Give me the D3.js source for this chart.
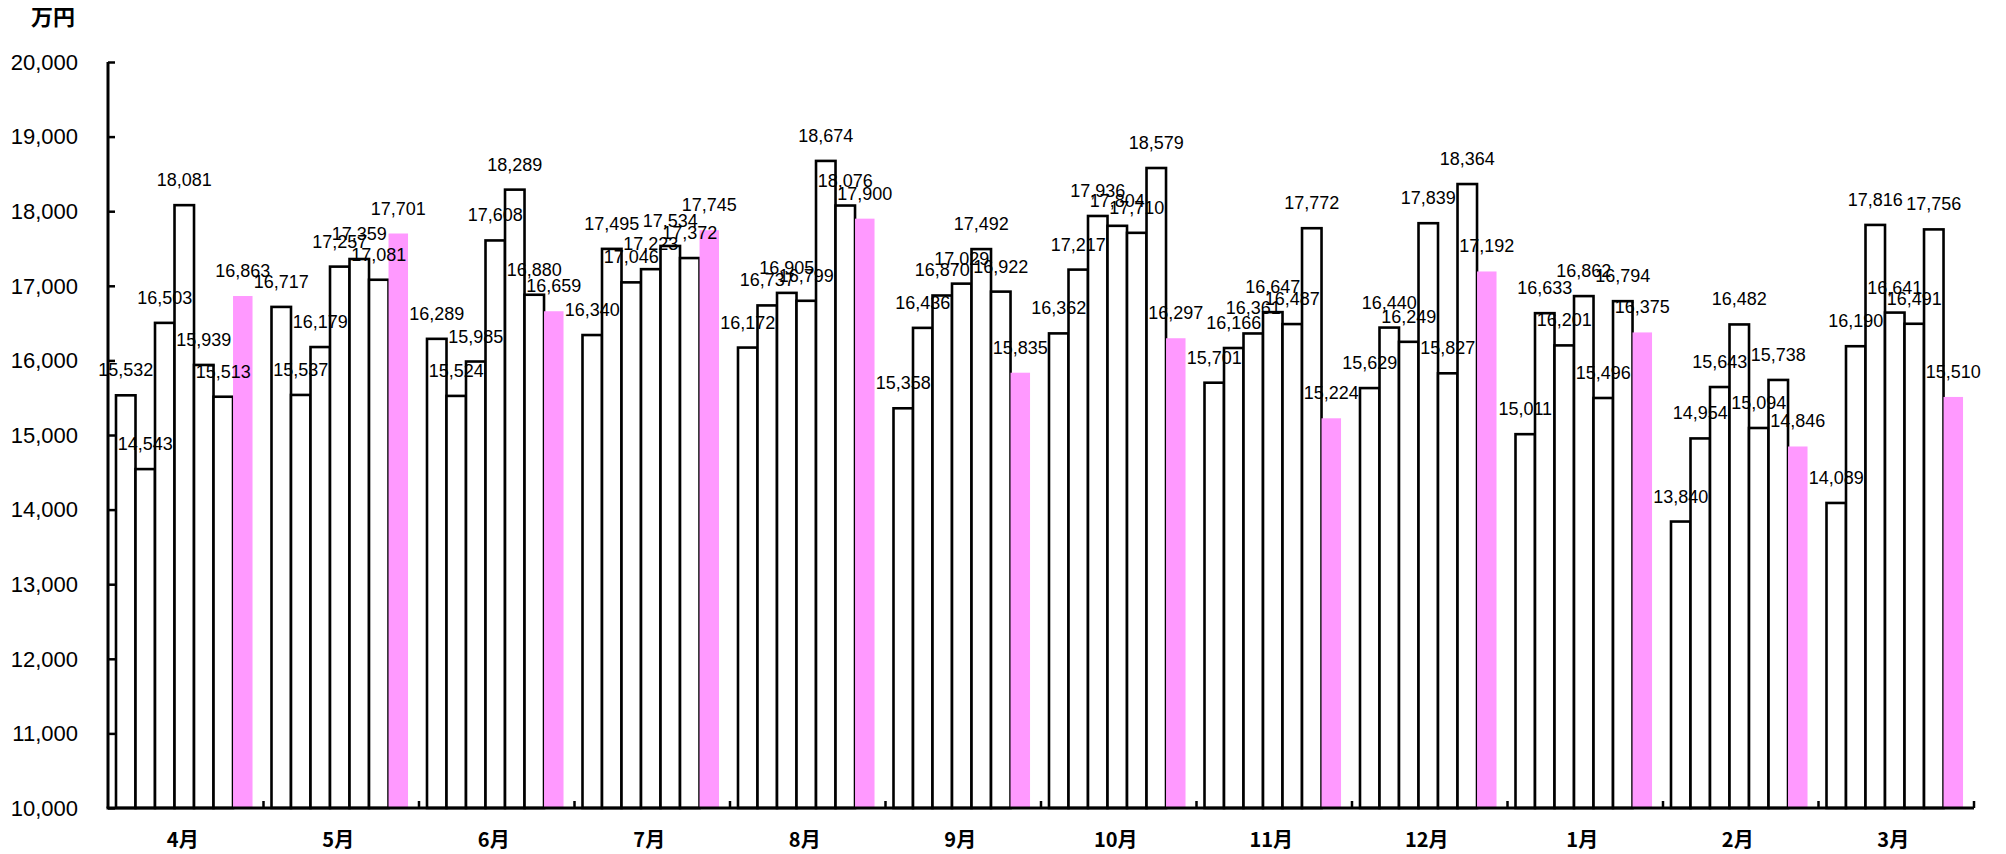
<!DOCTYPE html>
<html>
<head>
<meta charset="utf-8">
<script src="https://cdn.jsdelivr.net/npm/d3@7"></script>
<style>
  body { margin: 0; background: #fff; }
  svg text { font-family: "Liberation Sans", Arial, sans-serif; fill: #000; }
  .cjk { font-family: "Noto Sans CJK JP", sans-serif; }
</style>
</head>
<body>
<svg id="chart" width="2006" height="854"></svg>
<script>
// months on the x axis
const months = ["4月", "5月", "6月", "7月", "8月", "9月", "10月", "11月", "12月", "1月", "2月", "3月"];

// six outlined series, one value per month
const series1 = [15532, 16717, 16289, 16340, 16172, 15358, 16362, 15701, 15629, 15011, 13840, 14089];
const series2 = [14543, 15537, 15524, 17495, 16737, 16436, 17217, 16166, 16440, 16633, 14954, 16190];
const series3 = [16503, 16179, 15985, 17046, 16905, 16870, 17936, 16361, 16249, 16201, 15643, 17816];
const series4 = [18081, 17257, 17608, 17223, 16799, 17029, 17804, 16647, 17839, 16862, 16482, 16641];
const series5 = [15939, 17359, 18289, 17534, 18674, 17492, 17710, 16487, 15827, 15496, 15094, 16491];
const series6 = [15513, 17081, 16880, 17372, 18076, 16922, 18579, 17772, 18364, 16794, 15738, 17756];
// latest year (pink)
const series7 = [16863, 17701, 16659, 17745, 17900, 15835, 16297, 15224, 17192, 16375, 14846, 15510];

const yTicks = [10000, 11000, 12000, 13000, 14000, 15000, 16000, 17000, 18000, 19000, 20000];

const allSeries = [series1, series2, series3, series4, series5, series6, series7];
const seriesKeys = d3.range(allSeries.length);

const plotLeft = 108, plotRight = 1974, plotTop = 62, plotBottom = 808;

const svg = d3.select("#chart");

const x = d3.scaleBand()
  .domain(months)
  .range([plotLeft, plotRight])
  .paddingInner(0)
  .paddingOuter(0);

// bars inside one month: 7 bars, no gap between them
const groupWidth = x.bandwidth() * 0.878;
const groupOffset = 8;
const xInner = d3.scaleBand()
  .domain(seriesKeys)
  .range([0, groupWidth]);

const y = d3.scaleLinear()
  .domain([10000, 20000])
  .range([plotBottom, plotTop]);

// flatten into bar records
const bars = [];
months.forEach((m, i) => {
  allSeries.forEach((s, k) => {
    bars.push({ month: m, key: k, value: s[i] });
  });
});

// bars
const barG = svg.append("g");
barG.selectAll("rect")
  .data(bars)
  .enter()
  .append("rect")
  .attr("x", d => x(d.month) + groupOffset + xInner(d.key))
  .attr("y", d => y(d.value))
  .attr("width", xInner.bandwidth())
  .attr("height", d => plotBottom - y(d.value))
  .attr("fill", d => d.key === 6 ? "#ff99ff" : "#fff")
  .attr("stroke", d => d.key === 6 ? "none" : "#000")
  .attr("stroke-width", 2.6);

// value labels (sit a little above each bar, as in the original)
svg.append("g").selectAll("text")
  .data(bars)
  .enter()
  .append("text")
  .attr("x", d => x(d.month) + groupOffset + xInner(d.key) + xInner.bandwidth() / 2)
  .attr("y", d => y(d.value) - 19)
  .attr("text-anchor", "middle")
  .style("font-size", "18px")
  .text(d => d3.format(",")(d.value));

// y axis
const yAxis = d3.axisRight(y)
  .tickValues(yTicks)
  .tickSize(7)
  .tickFormat("");
const yG = svg.append("g")
  .attr("transform", `translate(${plotLeft},0)`)
  .call(yAxis);
yG.select(".domain").attr("stroke-width", 3).attr("d", `M0,${plotTop}V${plotBottom}`);
yG.selectAll(".tick line").attr("stroke-width", 2.5);

svg.append("g").selectAll("text")
  .data(yTicks)
  .enter()
  .append("text")
  .attr("x", plotLeft - 30)
  .attr("y", d => y(d))
  .attr("dy", "0.35em")
  .attr("text-anchor", "end")
  .style("font-size", "22px")
  .text(d => d3.format(",")(d));

// x axis with separators between months
const xG = svg.append("g");
xG.append("line")
  .attr("x1", plotLeft - 1.5).attr("x2", plotRight)
  .attr("y1", plotBottom).attr("y2", plotBottom)
  .attr("stroke", "#000").attr("stroke-width", 3);
xG.selectAll(".sep")
  .data(months)
  .enter()
  .append("line")
  .attr("class", "sep")
  .attr("x1", d => x(d) + x.bandwidth())
  .attr("x2", d => x(d) + x.bandwidth())
  .attr("y1", plotBottom)
  .attr("y2", plotBottom - 7)
  .attr("stroke", "#000")
  .attr("stroke-width", 2.5);
xG.selectAll(".mlabel")
  .data(months)
  .enter()
  .append("text")
  .attr("class", "mlabel cjk")
  .attr("x", d => x(d) + x.bandwidth() / 2 - 3)
  .attr("y", 847)
  .attr("text-anchor", "middle")
  .style("font-size", "20px")
  .style("font-weight", "bold")
  .text(d => d);

// unit label
svg.append("text")
  .attr("class", "cjk")
  .attr("x", 31)
  .attr("y", 25)
  .style("font-size", "22px")
  .style("font-weight", "bold")
  .text("万円");
</script>
</body>
</html>
